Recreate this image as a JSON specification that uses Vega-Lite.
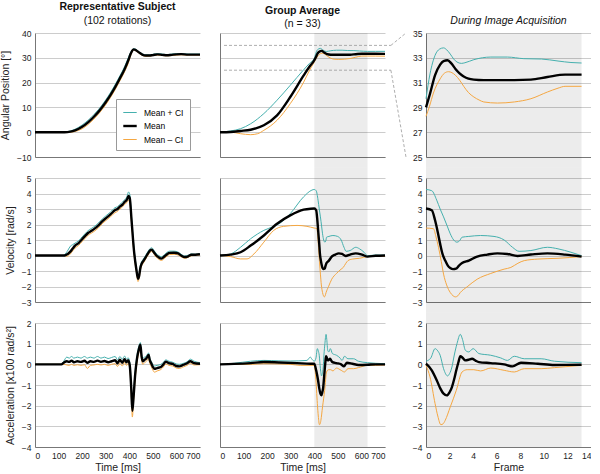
{
"$schema": "https://vega.github.io/schema/vega-lite/v6.json",
"padding": {"left": 0, "top": 2, "right": 0, "bottom": 0},
"background": "white",
"config": {
 "font": "Liberation Sans",
 "view": {"stroke": null},
 "axis": {"labelFont": "Liberation Sans", "titleFont": "Liberation Sans", "labelFontSize": 8.5, "titleFontSize": 10.5, "titleFontWeight": "normal", "labelColor": "#222", "titleColor": "#222", "domainColor": "#777", "gridColor": "#cccccc", "ticks": false, "labelPadding": 4},
 "axisX": {"grid": false, "titlePadding": 3},
 "axisY": {"grid": true, "titlePadding": 6},
 "title": {"font": "Liberation Sans", "fontSize": 10.5, "fontWeight": "bold", "subtitleFont": "Liberation Sans", "subtitleFontSize": 10.5, "subtitleColor": "#111", "subtitlePadding": 0, "offset": 3, "color": "#111", "anchor": "middle"},
 "line": {"interpolate": "monotone"}
},
"resolve": {"scale": {"color": "independent", "strokeWidth": "independent"}},
"datasets": {
"c1p": [
{"s":"Mean + CI","x":0,"y":0},{"s":"Mean + CI","x":118,"y":0},{"s":"Mean + CI","x":135,"y":0.15},{"s":"Mean + CI","x":150,"y":0.5},{"s":"Mean + CI","x":170,"y":1.2},{"s":"Mean + CI","x":200,"y":2.9},{"s":"Mean + CI","x":225,"y":4.8},{"s":"Mean + CI","x":250,"y":7.1},{"s":"Mean + CI","x":269,"y":9.1},{"s":"Mean + CI","x":300,"y":13.0},{"s":"Mean + CI","x":339,"y":19.0},{"s":"Mean + CI","x":360,"y":22.7},{"s":"Mean + CI","x":380,"y":26.4},{"s":"Mean + CI","x":397,"y":30.3},{"s":"Mean + CI","x":405,"y":32.1},{"s":"Mean + CI","x":412,"y":33.2},{"s":"Mean + CI","x":419,"y":33.7},{"s":"Mean + CI","x":426,"y":33.5},{"s":"Mean + CI","x":435,"y":32.9},{"s":"Mean + CI","x":445,"y":32.2},{"s":"Mean + CI","x":455,"y":31.6},{"s":"Mean + CI","x":470,"y":31.2},{"s":"Mean + CI","x":485,"y":31.2},{"s":"Mean + CI","x":500,"y":31.4},{"s":"Mean + CI","x":520,"y":31.7},{"s":"Mean + CI","x":540,"y":31.5},{"s":"Mean + CI","x":560,"y":31.3},{"s":"Mean + CI","x":580,"y":31.5},{"s":"Mean + CI","x":600,"y":31.7},{"s":"Mean + CI","x":620,"y":31.7},{"s":"Mean + CI","x":650,"y":31.5},{"s":"Mean + CI","x":700,"y":31.5},
{"s":"Mean – CI","x":0,"y":0},{"s":"Mean – CI","x":135,"y":0},{"s":"Mean – CI","x":150,"y":0.0},{"s":"Mean – CI","x":170,"y":0.3},{"s":"Mean – CI","x":200,"y":1.4},{"s":"Mean – CI","x":225,"y":3.1},{"s":"Mean – CI","x":250,"y":5.3},{"s":"Mean – CI","x":269,"y":7.3},{"s":"Mean – CI","x":300,"y":11.1},{"s":"Mean – CI","x":339,"y":17.0},{"s":"Mean – CI","x":360,"y":20.7},{"s":"Mean – CI","x":380,"y":24.4},{"s":"Mean – CI","x":397,"y":28.2},{"s":"Mean – CI","x":405,"y":30.7},{"s":"Mean – CI","x":412,"y":32.4},{"s":"Mean – CI","x":419,"y":33.1},{"s":"Mean – CI","x":426,"y":32.9},{"s":"Mean – CI","x":435,"y":32.3},{"s":"Mean – CI","x":445,"y":31.6},{"s":"Mean – CI","x":455,"y":31.0},{"s":"Mean – CI","x":470,"y":30.6},{"s":"Mean – CI","x":485,"y":30.7},{"s":"Mean – CI","x":500,"y":30.9},{"s":"Mean – CI","x":520,"y":31.1},{"s":"Mean – CI","x":540,"y":30.9},{"s":"Mean – CI","x":560,"y":30.8},{"s":"Mean – CI","x":580,"y":30.9},{"s":"Mean – CI","x":600,"y":31.1},{"s":"Mean – CI","x":620,"y":31.2},{"s":"Mean – CI","x":650,"y":31.1},{"s":"Mean – CI","x":700,"y":31.1},
{"s":"Mean","x":0,"y":0},{"s":"Mean","x":125,"y":0},{"s":"Mean","x":150,"y":0.21},{"s":"Mean","x":170,"y":0.73},{"s":"Mean","x":200,"y":2.18},{"s":"Mean","x":225,"y":3.97},{"s":"Mean","x":250,"y":6.23},{"s":"Mean","x":269,"y":8.2},{"s":"Mean","x":300,"y":12.06},{"s":"Mean","x":339,"y":18.0},{"s":"Mean","x":360,"y":21.7},{"s":"Mean","x":380,"y":25.4},{"s":"Mean","x":397,"y":29.3},{"s":"Mean","x":405,"y":31.4},{"s":"Mean","x":412,"y":32.8},{"s":"Mean","x":419,"y":33.4},{"s":"Mean","x":426,"y":33.2},{"s":"Mean","x":435,"y":32.6},{"s":"Mean","x":445,"y":31.9},{"s":"Mean","x":455,"y":31.3},{"s":"Mean","x":470,"y":30.9},{"s":"Mean","x":485,"y":30.9},{"s":"Mean","x":500,"y":31.1},{"s":"Mean","x":520,"y":31.4},{"s":"Mean","x":540,"y":31.2},{"s":"Mean","x":560,"y":31.0},{"s":"Mean","x":580,"y":31.2},{"s":"Mean","x":600,"y":31.4},{"s":"Mean","x":620,"y":31.5},{"s":"Mean","x":650,"y":31.3},{"s":"Mean","x":700,"y":31.3}
],
"c1v": [
{"s":"Mean + CI","x":0,"y":0},{"s":"Mean + CI","x":115,"y":0},{"s":"Mean + CI","x":125,"y":0.05},{"s":"Mean + CI","x":140,"y":0.35},{"s":"Mean + CI","x":150,"y":0.6},{"s":"Mean + CI","x":160,"y":0.7},{"s":"Mean + CI","x":170,"y":0.8},{"s":"Mean + CI","x":185,"y":0.95},{"s":"Mean + CI","x":200,"y":1.2},{"s":"Mean + CI","x":212,"y":1.4},{"s":"Mean + CI","x":225,"y":1.6},{"s":"Mean + CI","x":240,"y":1.75},{"s":"Mean + CI","x":250,"y":1.85},{"s":"Mean + CI","x":269,"y":2.1},{"s":"Mean + CI","x":285,"y":2.35},{"s":"Mean + CI","x":300,"y":2.55},{"s":"Mean + CI","x":320,"y":2.8},{"s":"Mean + CI","x":339,"y":3.08},{"s":"Mean + CI","x":350,"y":3.15},{"s":"Mean + CI","x":360,"y":3.3},{"s":"Mean + CI","x":372,"y":3.45},{"s":"Mean + CI","x":380,"y":3.6},{"s":"Mean + CI","x":390,"y":3.8},{"s":"Mean + CI","x":397,"y":4.1},{"s":"Mean + CI","x":402,"y":3.95},{"s":"Mean + CI","x":410,"y":2.4},{"s":"Mean + CI","x":420,"y":0.5},{"s":"Mean + CI","x":430,"y":-0.75},{"s":"Mean + CI","x":437,"y":-1.35},{"s":"Mean + CI","x":442,"y":-1.15},{"s":"Mean + CI","x":447,"y":-0.65},{"s":"Mean + CI","x":452,"y":-0.42},{"s":"Mean + CI","x":460,"y":-0.22},{"s":"Mean + CI","x":470,"y":0.02},{"s":"Mean + CI","x":480,"y":0.28},{"s":"Mean + CI","x":490,"y":0.47},{"s":"Mean + CI","x":495,"y":0.5},{"s":"Mean + CI","x":505,"y":0.32},{"s":"Mean + CI","x":515,"y":0.12},{"s":"Mean + CI","x":525,"y":0.0},{"s":"Mean + CI","x":536,"y":-0.08},{"s":"Mean + CI","x":550,"y":0.07},{"s":"Mean + CI","x":560,"y":0.2},{"s":"Mean + CI","x":571,"y":0.28},{"s":"Mean + CI","x":590,"y":0.28},{"s":"Mean + CI","x":607,"y":0.22},{"s":"Mean + CI","x":620,"y":0.08},{"s":"Mean + CI","x":635,"y":-0.03},{"s":"Mean + CI","x":650,"y":0.02},{"s":"Mean + CI","x":663,"y":0.1},{"s":"Mean + CI","x":680,"y":0.08},{"s":"Mean + CI","x":700,"y":0.1},
{"s":"Mean – CI","x":0,"y":0},{"s":"Mean – CI","x":125,"y":0},{"s":"Mean – CI","x":135,"y":-0.05},{"s":"Mean – CI","x":150,"y":0.1},{"s":"Mean – CI","x":160,"y":0.3},{"s":"Mean – CI","x":170,"y":0.48},{"s":"Mean – CI","x":185,"y":0.65},{"s":"Mean – CI","x":200,"y":0.9},{"s":"Mean – CI","x":212,"y":1.1},{"s":"Mean – CI","x":225,"y":1.3},{"s":"Mean – CI","x":240,"y":1.45},{"s":"Mean – CI","x":250,"y":1.55},{"s":"Mean – CI","x":269,"y":1.78},{"s":"Mean – CI","x":285,"y":2.05},{"s":"Mean – CI","x":300,"y":2.25},{"s":"Mean – CI","x":320,"y":2.5},{"s":"Mean – CI","x":339,"y":2.76},{"s":"Mean – CI","x":350,"y":2.85},{"s":"Mean – CI","x":360,"y":3.0},{"s":"Mean – CI","x":372,"y":3.15},{"s":"Mean – CI","x":380,"y":3.3},{"s":"Mean – CI","x":390,"y":3.42},{"s":"Mean – CI","x":397,"y":3.55},{"s":"Mean – CI","x":402,"y":3.45},{"s":"Mean – CI","x":410,"y":2.0},{"s":"Mean – CI","x":420,"y":0.1},{"s":"Mean – CI","x":430,"y":-1.05},{"s":"Mean – CI","x":437,"y":-1.68},{"s":"Mean – CI","x":442,"y":-1.45},{"s":"Mean – CI","x":447,"y":-0.95},{"s":"Mean – CI","x":452,"y":-0.68},{"s":"Mean – CI","x":460,"y":-0.48},{"s":"Mean – CI","x":470,"y":-0.22},{"s":"Mean – CI","x":480,"y":0.03},{"s":"Mean – CI","x":490,"y":0.23},{"s":"Mean – CI","x":495,"y":0.26},{"s":"Mean – CI","x":505,"y":0.08},{"s":"Mean – CI","x":515,"y":-0.12},{"s":"Mean – CI","x":525,"y":-0.24},{"s":"Mean – CI","x":536,"y":-0.32},{"s":"Mean – CI","x":550,"y":-0.17},{"s":"Mean – CI","x":560,"y":-0.04},{"s":"Mean – CI","x":571,"y":0.06},{"s":"Mean – CI","x":590,"y":0.08},{"s":"Mean – CI","x":607,"y":0.03},{"s":"Mean – CI","x":620,"y":-0.08},{"s":"Mean – CI","x":635,"y":-0.18},{"s":"Mean – CI","x":650,"y":-0.12},{"s":"Mean – CI","x":663,"y":-0.02},{"s":"Mean – CI","x":680,"y":0.0},{"s":"Mean – CI","x":700,"y":0.04},
{"s":"Mean","x":0,"y":0},{"s":"Mean","x":120,"y":0},{"s":"Mean","x":130,"y":0.03},{"s":"Mean","x":150,"y":0.25},{"s":"Mean","x":160,"y":0.45},{"s":"Mean","x":170,"y":0.64},{"s":"Mean","x":185,"y":0.8},{"s":"Mean","x":200,"y":1.05},{"s":"Mean","x":212,"y":1.25},{"s":"Mean","x":225,"y":1.45},{"s":"Mean","x":240,"y":1.6},{"s":"Mean","x":250,"y":1.7},{"s":"Mean","x":269,"y":1.94},{"s":"Mean","x":285,"y":2.2},{"s":"Mean","x":300,"y":2.4},{"s":"Mean","x":320,"y":2.65},{"s":"Mean","x":339,"y":2.92},{"s":"Mean","x":350,"y":3.0},{"s":"Mean","x":360,"y":3.15},{"s":"Mean","x":372,"y":3.3},{"s":"Mean","x":380,"y":3.45},{"s":"Mean","x":390,"y":3.6},{"s":"Mean","x":397,"y":3.85},{"s":"Mean","x":402,"y":3.7},{"s":"Mean","x":410,"y":2.2},{"s":"Mean","x":420,"y":0.3},{"s":"Mean","x":430,"y":-0.9},{"s":"Mean","x":437,"y":-1.5},{"s":"Mean","x":442,"y":-1.3},{"s":"Mean","x":447,"y":-0.8},{"s":"Mean","x":452,"y":-0.55},{"s":"Mean","x":460,"y":-0.35},{"s":"Mean","x":470,"y":-0.1},{"s":"Mean","x":480,"y":0.15},{"s":"Mean","x":490,"y":0.35},{"s":"Mean","x":495,"y":0.38},{"s":"Mean","x":505,"y":0.2},{"s":"Mean","x":515,"y":0.0},{"s":"Mean","x":525,"y":-0.12},{"s":"Mean","x":536,"y":-0.2},{"s":"Mean","x":550,"y":-0.05},{"s":"Mean","x":560,"y":0.08},{"s":"Mean","x":571,"y":0.17},{"s":"Mean","x":590,"y":0.18},{"s":"Mean","x":607,"y":0.13},{"s":"Mean","x":620,"y":0.0},{"s":"Mean","x":635,"y":-0.1},{"s":"Mean","x":650,"y":-0.05},{"s":"Mean","x":663,"y":0.05},{"s":"Mean","x":680,"y":0.05},{"s":"Mean","x":700,"y":0.08}
],
"c1a": [
{"s":"Mean + CI","x":0,"y":0},{"s":"Mean + CI","x":112,"y":0},{"s":"Mean + CI","x":122,"y":0.15},{"s":"Mean + CI","x":135,"y":0.35},{"s":"Mean + CI","x":145,"y":0.3},{"s":"Mean + CI","x":155,"y":0.38},{"s":"Mean + CI","x":165,"y":0.3},{"s":"Mean + CI","x":180,"y":0.35},{"s":"Mean + CI","x":195,"y":0.3},{"s":"Mean + CI","x":210,"y":0.38},{"s":"Mean + CI","x":222,"y":0.3},{"s":"Mean + CI","x":235,"y":0.35},{"s":"Mean + CI","x":250,"y":0.3},{"s":"Mean + CI","x":265,"y":0.38},{"s":"Mean + CI","x":280,"y":0.3},{"s":"Mean + CI","x":295,"y":0.35},{"s":"Mean + CI","x":310,"y":0.28},{"s":"Mean + CI","x":325,"y":0.33},{"s":"Mean + CI","x":340,"y":0.38},{"s":"Mean + CI","x":350,"y":0.22},{"s":"Mean + CI","x":360,"y":0.38},{"s":"Mean + CI","x":370,"y":0.25},{"s":"Mean + CI","x":380,"y":0.4},{"s":"Mean + CI","x":388,"y":0.25},{"s":"Mean + CI","x":395,"y":0.32},{"s":"Mean + CI","x":402,"y":0.1},{"s":"Mean + CI","x":408,"y":-0.9},{"s":"Mean + CI","x":413,"y":-2.05},{"s":"Mean + CI","x":418,"y":-1.4},{"s":"Mean + CI","x":425,"y":-0.3},{"s":"Mean + CI","x":433,"y":0.45},{"s":"Mean + CI","x":441,"y":0.9},{"s":"Mean + CI","x":447,"y":1.05},{"s":"Mean + CI","x":452,"y":0.55},{"s":"Mean + CI","x":457,"y":0.3},{"s":"Mean + CI","x":465,"y":0.35},{"s":"Mean + CI","x":473,"y":0.42},{"s":"Mean + CI","x":482,"y":0.55},{"s":"Mean + CI","x":487,"y":0.3},{"s":"Mean + CI","x":493,"y":0.15},{"s":"Mean + CI","x":500,"y":0.0},{"s":"Mean + CI","x":507,"y":-0.08},{"s":"Mean + CI","x":518,"y":-0.05},{"s":"Mean + CI","x":534,"y":0.0},{"s":"Mean + CI","x":545,"y":0.1},{"s":"Mean + CI","x":555,"y":0.22},{"s":"Mean + CI","x":568,"y":0.15},{"s":"Mean + CI","x":584,"y":0.1},{"s":"Mean + CI","x":600,"y":0.02},{"s":"Mean + CI","x":612,"y":0.0},{"s":"Mean + CI","x":630,"y":0.05},{"s":"Mean + CI","x":645,"y":0.12},{"s":"Mean + CI","x":659,"y":0.25},{"s":"Mean + CI","x":675,"y":0.15},{"s":"Mean + CI","x":700,"y":0.08},
{"s":"Mean – CI","x":0,"y":0},{"s":"Mean – CI","x":112,"y":0},{"s":"Mean – CI","x":122,"y":0.0},{"s":"Mean – CI","x":135,"y":-0.03},{"s":"Mean – CI","x":145,"y":-0.05},{"s":"Mean – CI","x":155,"y":0.0},{"s":"Mean – CI","x":165,"y":-0.05},{"s":"Mean – CI","x":180,"y":-0.02},{"s":"Mean – CI","x":195,"y":-0.05},{"s":"Mean – CI","x":210,"y":-0.02},{"s":"Mean – CI","x":222,"y":-0.2},{"s":"Mean – CI","x":235,"y":-0.05},{"s":"Mean – CI","x":250,"y":-0.03},{"s":"Mean – CI","x":265,"y":0.0},{"s":"Mean – CI","x":280,"y":-0.03},{"s":"Mean – CI","x":295,"y":0.0},{"s":"Mean – CI","x":310,"y":-0.05},{"s":"Mean – CI","x":325,"y":0.0},{"s":"Mean – CI","x":340,"y":0.03},{"s":"Mean – CI","x":350,"y":-0.1},{"s":"Mean – CI","x":360,"y":0.05},{"s":"Mean – CI","x":370,"y":-0.08},{"s":"Mean – CI","x":380,"y":0.1},{"s":"Mean – CI","x":388,"y":-0.05},{"s":"Mean – CI","x":395,"y":0.05},{"s":"Mean – CI","x":402,"y":-0.2},{"s":"Mean – CI","x":408,"y":-1.3},{"s":"Mean – CI","x":413,"y":-2.55},{"s":"Mean – CI","x":418,"y":-1.8},{"s":"Mean – CI","x":425,"y":-0.7},{"s":"Mean – CI","x":433,"y":0.1},{"s":"Mean – CI","x":441,"y":0.6},{"s":"Mean – CI","x":447,"y":0.85},{"s":"Mean – CI","x":452,"y":0.25},{"s":"Mean – CI","x":457,"y":0.0},{"s":"Mean – CI","x":465,"y":0.08},{"s":"Mean – CI","x":473,"y":0.15},{"s":"Mean – CI","x":482,"y":0.3},{"s":"Mean – CI","x":487,"y":0.05},{"s":"Mean – CI","x":493,"y":-0.1},{"s":"Mean – CI","x":500,"y":-0.28},{"s":"Mean – CI","x":507,"y":-0.38},{"s":"Mean – CI","x":518,"y":-0.32},{"s":"Mean – CI","x":534,"y":-0.25},{"s":"Mean – CI","x":545,"y":-0.12},{"s":"Mean – CI","x":555,"y":0.02},{"s":"Mean – CI","x":568,"y":-0.05},{"s":"Mean – CI","x":584,"y":-0.08},{"s":"Mean – CI","x":600,"y":-0.18},{"s":"Mean – CI","x":612,"y":-0.2},{"s":"Mean – CI","x":630,"y":-0.12},{"s":"Mean – CI","x":645,"y":-0.05},{"s":"Mean – CI","x":659,"y":0.05},{"s":"Mean – CI","x":675,"y":-0.03},{"s":"Mean – CI","x":700,"y":-0.02},
{"s":"Mean","x":0,"y":0},{"s":"Mean","x":112,"y":0},{"s":"Mean","x":122,"y":0.08},{"s":"Mean","x":135,"y":0.15},{"s":"Mean","x":145,"y":0.12},{"s":"Mean","x":155,"y":0.18},{"s":"Mean","x":165,"y":0.1},{"s":"Mean","x":180,"y":0.15},{"s":"Mean","x":195,"y":0.12},{"s":"Mean","x":210,"y":0.17},{"s":"Mean","x":222,"y":0.08},{"s":"Mean","x":235,"y":0.15},{"s":"Mean","x":250,"y":0.12},{"s":"Mean","x":265,"y":0.18},{"s":"Mean","x":280,"y":0.12},{"s":"Mean","x":295,"y":0.16},{"s":"Mean","x":310,"y":0.1},{"s":"Mean","x":325,"y":0.15},{"s":"Mean","x":340,"y":0.2},{"s":"Mean","x":350,"y":0.05},{"s":"Mean","x":360,"y":0.22},{"s":"Mean","x":370,"y":0.08},{"s":"Mean","x":380,"y":0.25},{"s":"Mean","x":388,"y":0.1},{"s":"Mean","x":395,"y":0.2},{"s":"Mean","x":402,"y":-0.05},{"s":"Mean","x":408,"y":-1.1},{"s":"Mean","x":413,"y":-2.25},{"s":"Mean","x":418,"y":-1.6},{"s":"Mean","x":425,"y":-0.5},{"s":"Mean","x":433,"y":0.3},{"s":"Mean","x":441,"y":0.75},{"s":"Mean","x":447,"y":0.95},{"s":"Mean","x":452,"y":0.4},{"s":"Mean","x":457,"y":0.15},{"s":"Mean","x":465,"y":0.22},{"s":"Mean","x":473,"y":0.3},{"s":"Mean","x":482,"y":0.45},{"s":"Mean","x":487,"y":0.2},{"s":"Mean","x":493,"y":0.05},{"s":"Mean","x":500,"y":-0.12},{"s":"Mean","x":507,"y":-0.22},{"s":"Mean","x":518,"y":-0.18},{"s":"Mean","x":534,"y":-0.13},{"s":"Mean","x":545,"y":0.0},{"s":"Mean","x":555,"y":0.13},{"s":"Mean","x":568,"y":0.06},{"s":"Mean","x":584,"y":0.02},{"s":"Mean","x":600,"y":-0.08},{"s":"Mean","x":612,"y":-0.1},{"s":"Mean","x":630,"y":-0.02},{"s":"Mean","x":645,"y":0.05},{"s":"Mean","x":659,"y":0.15},{"s":"Mean","x":675,"y":0.06},{"s":"Mean","x":700,"y":0.03}
],
"c2p": [
{"s":"Mean + CI","x":0,"y":0},{"s":"Mean + CI","x":45,"y":0.5},{"s":"Mean + CI","x":87,"y":1.4},{"s":"Mean + CI","x":130,"y":3.4},{"s":"Mean + CI","x":186,"y":7.5},{"s":"Mean + CI","x":242,"y":12.9},{"s":"Mean + CI","x":298,"y":18.9},{"s":"Mean + CI","x":355,"y":25.2},{"s":"Mean + CI","x":380,"y":27.8},{"s":"Mean + CI","x":400,"y":29.7},{"s":"Mean + CI","x":406,"y":31.7},{"s":"Mean + CI","x":413,"y":33.2},{"s":"Mean + CI","x":426,"y":33.8},{"s":"Mean + CI","x":435,"y":33.3},{"s":"Mean + CI","x":445,"y":32.66},{"s":"Mean + CI","x":451,"y":32.55},{"s":"Mean + CI","x":470,"y":32.85},{"s":"Mean + CI","x":494,"y":33.06},{"s":"Mean + CI","x":518,"y":33.06},{"s":"Mean + CI","x":542,"y":32.93},{"s":"Mean + CI","x":568,"y":32.9},{"s":"Mean + CI","x":592,"y":32.74},{"s":"Mean + CI","x":626,"y":32.58},{"s":"Mean + CI","x":660,"y":32.6},{"s":"Mean + CI","x":700,"y":32.6},
{"s":"Mean – CI","x":0,"y":0},{"s":"Mean – CI","x":45,"y":0},{"s":"Mean – CI","x":87,"y":-0.6},{"s":"Mean – CI","x":130,"y":-1.0},{"s":"Mean – CI","x":160,"y":-0.6},{"s":"Mean – CI","x":186,"y":0.75},{"s":"Mean – CI","x":242,"y":4.8},{"s":"Mean – CI","x":298,"y":11.5},{"s":"Mean – CI","x":355,"y":20.2},{"s":"Mean – CI","x":380,"y":25.0},{"s":"Mean – CI","x":400,"y":28.28},{"s":"Mean – CI","x":411,"y":30.16},{"s":"Mean – CI","x":421,"y":31.3},{"s":"Mean – CI","x":433,"y":31.88},{"s":"Mean – CI","x":443,"y":31.6},{"s":"Mean – CI","x":455,"y":30.7},{"s":"Mean – CI","x":470,"y":29.84},{"s":"Mean – CI","x":484,"y":29.44},{"s":"Mean – CI","x":504,"y":29.35},{"s":"Mean – CI","x":528,"y":29.44},{"s":"Mean – CI","x":552,"y":29.7},{"s":"Mean – CI","x":576,"y":30.24},{"s":"Mean – CI","x":602,"y":30.7},{"s":"Mean – CI","x":626,"y":30.7},{"s":"Mean – CI","x":660,"y":30.7},{"s":"Mean – CI","x":700,"y":30.65},
{"s":"Mean","x":0,"y":0},{"s":"Mean","x":45,"y":0.1},{"s":"Mean","x":87,"y":0.5},{"s":"Mean","x":130,"y":1.0},{"s":"Mean","x":186,"y":2.8},{"s":"Mean","x":242,"y":6.8},{"s":"Mean","x":298,"y":14.2},{"s":"Mean","x":355,"y":22.9},{"s":"Mean","x":380,"y":26.5},{"s":"Mean","x":400,"y":29.0},{"s":"Mean","x":406,"y":30.1},{"s":"Mean","x":413,"y":31.6},{"s":"Mean","x":421,"y":32.45},{"s":"Mean","x":431,"y":32.8},{"s":"Mean","x":443,"y":32.1},{"s":"Mean","x":455,"y":31.5},{"s":"Mean","x":470,"y":31.24},{"s":"Mean","x":484,"y":31.2},{"s":"Mean","x":504,"y":31.2},{"s":"Mean","x":528,"y":31.2},{"s":"Mean","x":552,"y":31.24},{"s":"Mean","x":576,"y":31.45},{"s":"Mean","x":602,"y":31.64},{"s":"Mean","x":626,"y":31.64},{"s":"Mean","x":660,"y":31.64},{"s":"Mean","x":700,"y":31.6}
],
"c2v": [
{"s":"Mean + CI","x":0,"y":0},{"s":"Mean + CI","x":45,"y":0.1},{"s":"Mean + CI","x":87,"y":0.53},{"s":"Mean + CI","x":130,"y":1.08},{"s":"Mean + CI","x":186,"y":1.62},{"s":"Mean + CI","x":228,"y":1.88},{"s":"Mean + CI","x":256,"y":2.1},{"s":"Mean + CI","x":298,"y":2.7},{"s":"Mean + CI","x":355,"y":3.79},{"s":"Mean + CI","x":390,"y":4.22},{"s":"Mean + CI","x":400,"y":4.26},{"s":"Mean + CI","x":408,"y":4.18},{"s":"Mean + CI","x":416,"y":3.57},{"s":"Mean + CI","x":421,"y":3.0},{"s":"Mean + CI","x":426,"y":2.49},{"s":"Mean + CI","x":431,"y":1.9},{"s":"Mean + CI","x":435,"y":1.4},{"s":"Mean + CI","x":440,"y":1.0},{"s":"Mean + CI","x":445,"y":0.86},{"s":"Mean + CI","x":449,"y":0.95},{"s":"Mean + CI","x":452,"y":1.18},{"s":"Mean + CI","x":462,"y":1.23},{"s":"Mean + CI","x":479,"y":1.29},{"s":"Mean + CI","x":499,"y":1.23},{"s":"Mean + CI","x":514,"y":1.0},{"s":"Mean + CI","x":526,"y":0.53},{"s":"Mean + CI","x":535,"y":0.27},{"s":"Mean + CI","x":552,"y":0.32},{"s":"Mean + CI","x":576,"y":0.53},{"s":"Mean + CI","x":592,"y":0.43},{"s":"Mean + CI","x":611,"y":0.21},{"s":"Mean + CI","x":626,"y":-0.01},{"s":"Mean + CI","x":660,"y":0.03},{"s":"Mean + CI","x":700,"y":0.02},
{"s":"Mean – CI","x":0,"y":0},{"s":"Mean – CI","x":45,"y":-0.07},{"s":"Mean – CI","x":87,"y":-0.22},{"s":"Mean – CI","x":115,"y":-0.22},{"s":"Mean – CI","x":144,"y":0.1},{"s":"Mean – CI","x":186,"y":0.86},{"s":"Mean – CI","x":228,"y":1.62},{"s":"Mean – CI","x":270,"y":1.88},{"s":"Mean – CI","x":327,"y":1.94},{"s":"Mean – CI","x":369,"y":1.88},{"s":"Mean – CI","x":400,"y":1.77},{"s":"Mean – CI","x":411,"y":1.73},{"s":"Mean – CI","x":415,"y":1.2},{"s":"Mean – CI","x":418,"y":0.53},{"s":"Mean – CI","x":422,"y":-0.4},{"s":"Mean – CI","x":426,"y":-1.2},{"s":"Mean – CI","x":430,"y":-1.9},{"s":"Mean – CI","x":435,"y":-2.39},{"s":"Mean – CI","x":439,"y":-2.6},{"s":"Mean – CI","x":443,"y":-2.67},{"s":"Mean – CI","x":446,"y":-2.6},{"s":"Mean – CI","x":450,"y":-2.39},{"s":"Mean – CI","x":460,"y":-2.02},{"s":"Mean – CI","x":474,"y":-1.53},{"s":"Mean – CI","x":494,"y":-1.16},{"s":"Mean – CI","x":514,"y":-0.88},{"s":"Mean – CI","x":523,"y":-0.77},{"s":"Mean – CI","x":534,"y":-0.5},{"s":"Mean – CI","x":543,"y":-0.33},{"s":"Mean – CI","x":562,"y":-0.23},{"s":"Mean – CI","x":592,"y":-0.18},{"s":"Mean – CI","x":626,"y":-0.07},{"s":"Mean – CI","x":660,"y":-0.05},{"s":"Mean – CI","x":700,"y":-0.05},
{"s":"Mean","x":0,"y":0},{"s":"Mean","x":45,"y":0.06},{"s":"Mean","x":87,"y":0.21},{"s":"Mean","x":130,"y":0.64},{"s":"Mean","x":186,"y":1.29},{"s":"Mean","x":242,"y":2.05},{"s":"Mean","x":298,"y":2.59},{"s":"Mean","x":355,"y":2.96},{"s":"Mean","x":385,"y":3.02},{"s":"Mean","x":400,"y":3.03},{"s":"Mean","x":408,"y":2.92},{"s":"Mean","x":413,"y":2.27},{"s":"Mean","x":417,"y":1.5},{"s":"Mean","x":421,"y":0.75},{"s":"Mean","x":424,"y":0.1},{"s":"Mean","x":428,"y":-0.33},{"s":"Mean","x":432,"y":-0.65},{"s":"Mean","x":435,"y":-0.81},{"s":"Mean","x":439,"y":-0.88},{"s":"Mean","x":444,"y":-0.85},{"s":"Mean","x":448,"y":-0.65},{"s":"Mean","x":452,"y":-0.49},{"s":"Mean","x":462,"y":-0.33},{"s":"Mean","x":474,"y":-0.07},{"s":"Mean","x":489,"y":0.06},{"s":"Mean","x":504,"y":0.14},{"s":"Mean","x":518,"y":0.1},{"s":"Mean","x":533,"y":-0.03},{"s":"Mean","x":552,"y":0.06},{"s":"Mean","x":576,"y":0.14},{"s":"Mean","x":602,"y":0.06},{"s":"Mean","x":626,"y":-0.07},{"s":"Mean","x":660,"y":-0.02},{"s":"Mean","x":700,"y":0.0}
],
"c2a": [
{"s":"Mean + CI","x":0,"y":0},{"s":"Mean + CI","x":60,"y":0.05},{"s":"Mean + CI","x":130,"y":0.15},{"s":"Mean + CI","x":186,"y":0.19},{"s":"Mean + CI","x":250,"y":0.17},{"s":"Mean + CI","x":300,"y":0.16},{"s":"Mean + CI","x":369,"y":0.19},{"s":"Mean + CI","x":383,"y":0.35},{"s":"Mean + CI","x":390,"y":0.25},{"s":"Mean + CI","x":400,"y":0.15},{"s":"Mean + CI","x":407,"y":0.3},{"s":"Mean + CI","x":413,"y":0.76},{"s":"Mean + CI","x":417,"y":0.65},{"s":"Mean + CI","x":421,"y":0.44},{"s":"Mean + CI","x":426,"y":-0.21},{"s":"Mean + CI","x":431,"y":-0.56},{"s":"Mean + CI","x":434,"y":-0.45},{"s":"Mean + CI","x":438,"y":-0.13},{"s":"Mean + CI","x":441,"y":0.45},{"s":"Mean + CI","x":445,"y":1.0},{"s":"Mean + CI","x":450,"y":1.45},{"s":"Mean + CI","x":453,"y":1.2},{"s":"Mean + CI","x":457,"y":0.68},{"s":"Mean + CI","x":462,"y":0.6},{"s":"Mean + CI","x":468,"y":0.76},{"s":"Mean + CI","x":477,"y":0.52},{"s":"Mean + CI","x":494,"y":0.44},{"s":"Mean + CI","x":509,"y":0.31},{"s":"Mean + CI","x":518,"y":0.19},{"s":"Mean + CI","x":528,"y":0.39},{"s":"Mean + CI","x":543,"y":0.27},{"s":"Mean + CI","x":567,"y":0.27},{"s":"Mean + CI","x":587,"y":0.15},{"s":"Mean + CI","x":626,"y":0.08},{"s":"Mean + CI","x":660,"y":0.05},{"s":"Mean + CI","x":700,"y":0.03},
{"s":"Mean – CI","x":0,"y":0},{"s":"Mean – CI","x":60,"y":0.0},{"s":"Mean – CI","x":130,"y":0.0},{"s":"Mean – CI","x":186,"y":0.03},{"s":"Mean – CI","x":300,"y":0.0},{"s":"Mean – CI","x":340,"y":-0.05},{"s":"Mean – CI","x":400,"y":-0.05},{"s":"Mean – CI","x":406,"y":-0.61},{"s":"Mean – CI","x":413,"y":-1.9},{"s":"Mean – CI","x":417,"y":-2.5},{"s":"Mean – CI","x":422,"y":-2.92},{"s":"Mean – CI","x":425,"y":-2.88},{"s":"Mean – CI","x":428,"y":-2.71},{"s":"Mean – CI","x":435,"y":-2.06},{"s":"Mean – CI","x":444,"y":-1.26},{"s":"Mean – CI","x":452,"y":-0.37},{"s":"Mean – CI","x":460,"y":-0.26},{"s":"Mean – CI","x":470,"y":-0.26},{"s":"Mean – CI","x":479,"y":-0.32},{"s":"Mean – CI","x":494,"y":-0.18},{"s":"Mean – CI","x":514,"y":-0.29},{"s":"Mean – CI","x":528,"y":-0.37},{"s":"Mean – CI","x":543,"y":-0.21},{"s":"Mean – CI","x":567,"y":-0.21},{"s":"Mean – CI","x":587,"y":-0.16},{"s":"Mean – CI","x":626,"y":-0.05},{"s":"Mean – CI","x":660,"y":-0.05},{"s":"Mean – CI","x":700,"y":-0.03},
{"s":"Mean","x":0,"y":0},{"s":"Mean","x":60,"y":0.02},{"s":"Mean","x":130,"y":0.06},{"s":"Mean","x":186,"y":0.11},{"s":"Mean","x":250,"y":0.09},{"s":"Mean","x":327,"y":0.06},{"s":"Mean","x":383,"y":0.03},{"s":"Mean","x":400,"y":0.03},{"s":"Mean","x":408,"y":-0.29},{"s":"Mean","x":416,"y":-0.77},{"s":"Mean","x":421,"y":-1.15},{"s":"Mean","x":426,"y":-1.42},{"s":"Mean","x":430,"y":-1.5},{"s":"Mean","x":434,"y":-1.35},{"s":"Mean","x":438,"y":-1.1},{"s":"Mean","x":441,"y":-0.7},{"s":"Mean","x":444,"y":-0.29},{"s":"Mean","x":447,"y":0.1},{"s":"Mean","x":450,"y":0.39},{"s":"Mean","x":453,"y":0.32},{"s":"Mean","x":457,"y":0.19},{"s":"Mean","x":462,"y":0.22},{"s":"Mean","x":467,"y":0.27},{"s":"Mean","x":472,"y":0.18},{"s":"Mean","x":477,"y":0.11},{"s":"Mean","x":494,"y":0.06},{"s":"Mean","x":514,"y":0.0},{"s":"Mean","x":526,"y":-0.1},{"s":"Mean","x":538,"y":0.08},{"s":"Mean","x":562,"y":0.03},{"s":"Mean","x":587,"y":-0.03},{"s":"Mean","x":626,"y":-0.02},{"s":"Mean","x":660,"y":0.0},{"s":"Mean","x":700,"y":0.0}
],
"c3p": [
{"s":"Mean + CI","x":0,"y":29.7},{"s":"Mean + CI","x":0.34,"y":31.7},{"s":"Mean + CI","x":0.77,"y":33.2},{"s":"Mean + CI","x":1.15,"y":33.7},{"s":"Mean + CI","x":1.49,"y":33.8},{"s":"Mean + CI","x":1.75,"y":33.65},{"s":"Mean + CI","x":2.06,"y":33.3},{"s":"Mean + CI","x":2.35,"y":32.9},{"s":"Mean + CI","x":2.63,"y":32.66},{"s":"Mean + CI","x":3.0,"y":32.55},{"s":"Mean + CI","x":3.3,"y":32.6},{"s":"Mean + CI","x":4.06,"y":32.85},{"s":"Mean + CI","x":5.5,"y":33.06},{"s":"Mean + CI","x":6.9,"y":33.06},{"s":"Mean + CI","x":8.3,"y":32.93},{"s":"Mean + CI","x":9.8,"y":32.9},{"s":"Mean + CI","x":11.2,"y":32.74},{"s":"Mean + CI","x":12.3,"y":32.62},{"s":"Mean + CI","x":13.2,"y":32.58},
{"s":"Mean – CI","x":0,"y":28.28},{"s":"Mean – CI","x":0.3,"y":29.1},{"s":"Mean – CI","x":0.63,"y":30.16},{"s":"Mean – CI","x":1.2,"y":31.3},{"s":"Mean – CI","x":1.55,"y":31.75},{"s":"Mean – CI","x":1.91,"y":31.88},{"s":"Mean – CI","x":2.2,"y":31.8},{"s":"Mean – CI","x":2.49,"y":31.6},{"s":"Mean – CI","x":2.85,"y":31.2},{"s":"Mean – CI","x":3.2,"y":30.7},{"s":"Mean – CI","x":3.6,"y":30.2},{"s":"Mean – CI","x":4.06,"y":29.84},{"s":"Mean – CI","x":4.5,"y":29.6},{"s":"Mean – CI","x":4.9,"y":29.44},{"s":"Mean – CI","x":6.06,"y":29.35},{"s":"Mean – CI","x":7.5,"y":29.44},{"s":"Mean – CI","x":8.9,"y":29.7},{"s":"Mean – CI","x":10.3,"y":30.24},{"s":"Mean – CI","x":11.2,"y":30.55},{"s":"Mean – CI","x":11.8,"y":30.7},{"s":"Mean – CI","x":13.2,"y":30.7},
{"s":"Mean","x":0,"y":29.0},{"s":"Mean","x":0.34,"y":30.1},{"s":"Mean","x":0.77,"y":31.6},{"s":"Mean","x":1.2,"y":32.45},{"s":"Mean","x":1.49,"y":32.74},{"s":"Mean","x":1.83,"y":32.8},{"s":"Mean","x":2.15,"y":32.55},{"s":"Mean","x":2.5,"y":32.1},{"s":"Mean","x":2.85,"y":31.75},{"s":"Mean","x":3.2,"y":31.5},{"s":"Mean","x":3.6,"y":31.32},{"s":"Mean","x":4.06,"y":31.24},{"s":"Mean","x":4.9,"y":31.2},{"s":"Mean","x":6.06,"y":31.2},{"s":"Mean","x":7.5,"y":31.2},{"s":"Mean","x":8.9,"y":31.24},{"s":"Mean","x":10.3,"y":31.45},{"s":"Mean","x":11.8,"y":31.64},{"s":"Mean","x":13.2,"y":31.64}
],
"c3v": [
{"s":"Mean + CI","x":0,"y":4.26},{"s":"Mean + CI","x":0.49,"y":4.18},{"s":"Mean + CI","x":0.91,"y":3.57},{"s":"Mean + CI","x":1.2,"y":3.0},{"s":"Mean + CI","x":1.49,"y":2.49},{"s":"Mean + CI","x":1.8,"y":1.9},{"s":"Mean + CI","x":2.06,"y":1.4},{"s":"Mean + CI","x":2.35,"y":1.0},{"s":"Mean + CI","x":2.63,"y":0.86},{"s":"Mean + CI","x":2.85,"y":0.95},{"s":"Mean + CI","x":3.06,"y":1.18},{"s":"Mean + CI","x":3.63,"y":1.23},{"s":"Mean + CI","x":4.63,"y":1.29},{"s":"Mean + CI","x":5.77,"y":1.23},{"s":"Mean + CI","x":6.63,"y":1.0},{"s":"Mean + CI","x":7.34,"y":0.53},{"s":"Mean + CI","x":7.9,"y":0.27},{"s":"Mean + CI","x":8.9,"y":0.32},{"s":"Mean + CI","x":10.3,"y":0.53},{"s":"Mean + CI","x":11.2,"y":0.43},{"s":"Mean + CI","x":12.3,"y":0.21},{"s":"Mean + CI","x":13.2,"y":-0.01},
{"s":"Mean – CI","x":0,"y":1.77},{"s":"Mean – CI","x":0.63,"y":1.73},{"s":"Mean – CI","x":0.85,"y":1.2},{"s":"Mean – CI","x":1.06,"y":0.53},{"s":"Mean – CI","x":1.3,"y":-0.4},{"s":"Mean – CI","x":1.49,"y":-1.2},{"s":"Mean – CI","x":1.75,"y":-1.9},{"s":"Mean – CI","x":2.06,"y":-2.39},{"s":"Mean – CI","x":2.3,"y":-2.6},{"s":"Mean – CI","x":2.49,"y":-2.67},{"s":"Mean – CI","x":2.7,"y":-2.6},{"s":"Mean – CI","x":2.91,"y":-2.39},{"s":"Mean – CI","x":3.49,"y":-2.02},{"s":"Mean – CI","x":4.34,"y":-1.53},{"s":"Mean – CI","x":5.49,"y":-1.16},{"s":"Mean – CI","x":6.63,"y":-0.88},{"s":"Mean – CI","x":7.2,"y":-0.77},{"s":"Mean – CI","x":7.8,"y":-0.5},{"s":"Mean – CI","x":8.34,"y":-0.33},{"s":"Mean – CI","x":9.49,"y":-0.23},{"s":"Mean – CI","x":11.2,"y":-0.18},{"s":"Mean – CI","x":13.2,"y":-0.07},
{"s":"Mean","x":0,"y":3.03},{"s":"Mean","x":0.49,"y":2.92},{"s":"Mean","x":0.77,"y":2.27},{"s":"Mean","x":1.0,"y":1.5},{"s":"Mean","x":1.2,"y":0.75},{"s":"Mean","x":1.4,"y":0.1},{"s":"Mean","x":1.63,"y":-0.33},{"s":"Mean","x":1.85,"y":-0.65},{"s":"Mean","x":2.06,"y":-0.81},{"s":"Mean","x":2.3,"y":-0.88},{"s":"Mean","x":2.55,"y":-0.85},{"s":"Mean","x":2.8,"y":-0.65},{"s":"Mean","x":3.06,"y":-0.49},{"s":"Mean","x":3.63,"y":-0.33},{"s":"Mean","x":4.34,"y":-0.07},{"s":"Mean","x":5.2,"y":0.06},{"s":"Mean","x":6.06,"y":0.14},{"s":"Mean","x":6.9,"y":0.1},{"s":"Mean","x":7.77,"y":-0.03},{"s":"Mean","x":8.9,"y":0.06},{"s":"Mean","x":10.3,"y":0.14},{"s":"Mean","x":11.8,"y":0.06},{"s":"Mean","x":13.2,"y":-0.07}
],
"c3a": [
{"s":"Mean + CI","x":0,"y":0.15},{"s":"Mean + CI","x":0.4,"y":0.3},{"s":"Mean + CI","x":0.77,"y":0.76},{"s":"Mean + CI","x":1.0,"y":0.65},{"s":"Mean + CI","x":1.2,"y":0.44},{"s":"Mean + CI","x":1.49,"y":-0.21},{"s":"Mean + CI","x":1.83,"y":-0.56},{"s":"Mean + CI","x":2.0,"y":-0.45},{"s":"Mean + CI","x":2.2,"y":-0.13},{"s":"Mean + CI","x":2.4,"y":0.45},{"s":"Mean + CI","x":2.63,"y":1.0},{"s":"Mean + CI","x":2.91,"y":1.45},{"s":"Mean + CI","x":3.1,"y":1.2},{"s":"Mean + CI","x":3.34,"y":0.68},{"s":"Mean + CI","x":3.63,"y":0.6},{"s":"Mean + CI","x":4.0,"y":0.76},{"s":"Mean + CI","x":4.49,"y":0.52},{"s":"Mean + CI","x":5.49,"y":0.44},{"s":"Mean + CI","x":6.34,"y":0.31},{"s":"Mean + CI","x":6.91,"y":0.19},{"s":"Mean + CI","x":7.49,"y":0.39},{"s":"Mean + CI","x":8.34,"y":0.27},{"s":"Mean + CI","x":9.77,"y":0.27},{"s":"Mean + CI","x":10.9,"y":0.15},{"s":"Mean + CI","x":13.2,"y":0.08},
{"s":"Mean – CI","x":0,"y":-0.05},{"s":"Mean – CI","x":0.34,"y":-0.61},{"s":"Mean – CI","x":0.77,"y":-1.9},{"s":"Mean – CI","x":1.0,"y":-2.5},{"s":"Mean – CI","x":1.26,"y":-2.92},{"s":"Mean – CI","x":1.45,"y":-2.88},{"s":"Mean – CI","x":1.63,"y":-2.71},{"s":"Mean – CI","x":2.06,"y":-2.06},{"s":"Mean – CI","x":2.57,"y":-1.26},{"s":"Mean – CI","x":3.06,"y":-0.37},{"s":"Mean – CI","x":3.49,"y":-0.26},{"s":"Mean – CI","x":4.06,"y":-0.26},{"s":"Mean – CI","x":4.63,"y":-0.32},{"s":"Mean – CI","x":5.49,"y":-0.18},{"s":"Mean – CI","x":6.63,"y":-0.29},{"s":"Mean – CI","x":7.49,"y":-0.37},{"s":"Mean – CI","x":8.34,"y":-0.21},{"s":"Mean – CI","x":9.77,"y":-0.21},{"s":"Mean – CI","x":10.9,"y":-0.16},{"s":"Mean – CI","x":13.2,"y":-0.05},
{"s":"Mean","x":0,"y":0.03},{"s":"Mean","x":0.49,"y":-0.29},{"s":"Mean","x":0.91,"y":-0.77},{"s":"Mean","x":1.2,"y":-1.15},{"s":"Mean","x":1.49,"y":-1.42},{"s":"Mean","x":1.77,"y":-1.5},{"s":"Mean","x":2.0,"y":-1.35},{"s":"Mean","x":2.2,"y":-1.1},{"s":"Mean","x":2.4,"y":-0.7},{"s":"Mean","x":2.57,"y":-0.29},{"s":"Mean","x":2.75,"y":0.1},{"s":"Mean","x":2.91,"y":0.39},{"s":"Mean","x":3.1,"y":0.32},{"s":"Mean","x":3.34,"y":0.19},{"s":"Mean","x":3.6,"y":0.22},{"s":"Mean","x":3.91,"y":0.27},{"s":"Mean","x":4.2,"y":0.18},{"s":"Mean","x":4.49,"y":0.11},{"s":"Mean","x":5.49,"y":0.06},{"s":"Mean","x":6.63,"y":0.0},{"s":"Mean","x":7.34,"y":-0.1},{"s":"Mean","x":8.06,"y":0.08},{"s":"Mean","x":9.49,"y":0.03},{"s":"Mean","x":10.9,"y":-0.03},{"s":"Mean","x":13.2,"y":-0.02}
]
},
"columns": 4,
"bounds": "flush",
"spacing": {"column": 20, "row": 21},
"concat": [
{
 "width": 165, "height": 124,
 "title": {"text": "Representative Subject", "subtitle": "(102 rotations)"},
 "data": {"name": "c1p"},
 "mark": {"type": "line", "interpolate": "monotone"},
 "encoding": {
  "x": {"field": "x", "type": "quantitative", "scale": {"domain": [0, 700]}, "axis": {"labels": false, "title": null}},
  "y": {"field": "y", "type": "quantitative", "scale": {"domain": [-10, 40]}, "axis": {"values": [-10, 0, 10, 20, 30, 40], "title": "Angular Position [°]"}},
  "color": {"field": "s", "type": "ordinal", "scale": {"domain": ["Mean + CI", "Mean", "Mean – CI"], "range": ["#45b0ae", "#000000", "#f5a742"]}, "legend": {"title": null, "orient": "none", "legendX": 81, "legendY": 66, "strokeColor": "#999", "fillColor": "#ffffff", "padding": 6, "symbolType": "stroke", "symbolSize": 180, "labelFontSize": 8.5, "labelFont": "Liberation Sans", "rowPadding": 1, "labelOffset": 6}},
  "strokeWidth": {"field": "s", "type": "ordinal", "scale": {"type": "ordinal", "domain": ["Mean + CI", "Mean", "Mean – CI"], "range": [1, 2.4, 1]}, "legend": {"title": null, "orient": "none", "legendX": 81, "legendY": 66, "strokeColor": "#999", "fillColor": "#ffffff", "padding": 6, "symbolType": "stroke", "symbolSize": 180, "labelFontSize": 8.5, "labelFont": "Liberation Sans", "rowPadding": 1, "labelOffset": 6}}
 }
},
{
 "width": 165, "height": 124,
 "title": {"text": "Group Average", "subtitle": "(n = 33)"},
 "encoding": {
  "x": {"field": "x", "type": "quantitative", "scale": {"domain": [0, 700]}, "axis": {"labels": false, "title": null}},
  "y": {"field": "y", "type": "quantitative", "scale": {"domain": [-10, 40]}, "axis": {"values": [-10, 0, 10, 20, 30, 40], "labels": false, "title": null}}
 },
 "layer": [
  {"data": {"values": [{"x": 400, "x2": 626, "y": 40, "y2": -14.23}]}, "mark": {"type": "rect", "fill": "#000000", "fillOpacity": 0.075}, "encoding": {"x2": {"field": "x2"}, "y2": {"field": "y2"}}},
  {"data": {"values": [{"x": 17, "y": 35, "x2": 725, "y2": 35}, {"x": 725, "y": 35, "x2": 789, "y2": 40}, {"x": 17, "y": 25, "x2": 725, "y2": 25}, {"x": 725, "y": 25, "x2": 789, "y2": -10}]}, "mark": {"type": "rule", "stroke": "#999999", "strokeWidth": 0.8, "strokeDash": [3, 2]}, "encoding": {"x2": {"field": "x2"}, "y2": {"field": "y2"}}},
  {"data": {"name": "c2p"}, "mark": {"type": "line", "interpolate": "monotone"}, "encoding": {
   "color": {"field": "s", "type": "ordinal", "scale": {"domain": ["Mean + CI", "Mean", "Mean – CI"], "range": ["#45b0ae", "#000000", "#f5a742"]}, "legend": null},
   "strokeWidth": {"field": "s", "type": "ordinal", "scale": {"type": "ordinal", "domain": ["Mean + CI", "Mean", "Mean – CI"], "range": [1, 2.4, 1]}, "legend": null}}}
 ]
},
{"width": 1, "height": 124, "data": {"values": []}, "mark": "point"},
{
 "width": 165, "height": 124,
 "title": {"text": "During Image Acquisition", "fontStyle": "italic", "fontWeight": "normal"},
 "encoding": {
  "x": {"field": "x", "type": "quantitative", "scale": {"domain": [0, 14]}, "axis": {"labels": false, "title": null}},
  "y": {"field": "y", "type": "quantitative", "scale": {"domain": [25, 35]}, "axis": {"values": [25, 27, 29, 31, 33, 35], "title": null}}
 },
 "layer": [
  {"data": {"values": [{"x": 0, "x2": 13.2, "y": 35, "y2": 24.15}]}, "mark": {"type": "rect", "fill": "#000000", "fillOpacity": 0.075}, "encoding": {"x2": {"field": "x2"}, "y2": {"field": "y2"}}},
  {"data": {"name": "c3p"}, "mark": {"type": "line", "interpolate": "monotone"}, "encoding": {
   "color": {"field": "s", "type": "ordinal", "scale": {"domain": ["Mean + CI", "Mean", "Mean – CI"], "range": ["#45b0ae", "#000000", "#f5a742"]}, "legend": null},
   "strokeWidth": {"field": "s", "type": "ordinal", "scale": {"type": "ordinal", "domain": ["Mean + CI", "Mean", "Mean – CI"], "range": [1, 2.4, 1]}, "legend": null}}}
 ]
},
{
 "width": 165, "height": 124,
 "data": {"name": "c1v"},
 "mark": {"type": "line", "interpolate": "monotone"},
 "encoding": {
  "x": {"field": "x", "type": "quantitative", "scale": {"domain": [0, 700]}, "axis": {"labels": false, "title": null}},
  "y": {"field": "y", "type": "quantitative", "scale": {"domain": [-3, 5]}, "axis": {"values": [-3, -2, -1, 0, 1, 2, 3, 4, 5], "title": "Velocity [rad/s]"}},
  "color": {"field": "s", "type": "ordinal", "scale": {"domain": ["Mean + CI", "Mean", "Mean – CI"], "range": ["#45b0ae", "#000000", "#f5a742"]}, "legend": null},
  "strokeWidth": {"field": "s", "type": "ordinal", "scale": {"type": "ordinal", "domain": ["Mean + CI", "Mean", "Mean – CI"], "range": [1, 2.4, 1]}, "legend": null}
 }
},
{
 "width": 165, "height": 124,
 "encoding": {
  "x": {"field": "x", "type": "quantitative", "scale": {"domain": [0, 700]}, "axis": {"labels": false, "title": null}},
  "y": {"field": "y", "type": "quantitative", "scale": {"domain": [-3, 5]}, "axis": {"values": [-3, -2, -1, 0, 1, 2, 3, 4, 5], "labels": false, "title": null}}
 },
 "layer": [
  {"data": {"values": [{"x": 400, "x2": 626, "y": 5.68, "y2": -3.68}]}, "mark": {"type": "rect", "fill": "#000000", "fillOpacity": 0.075}, "encoding": {"x2": {"field": "x2"}, "y2": {"field": "y2"}}},
  {"data": {"name": "c2v"}, "mark": {"type": "line", "interpolate": "monotone"}, "encoding": {
   "color": {"field": "s", "type": "ordinal", "scale": {"domain": ["Mean + CI", "Mean", "Mean – CI"], "range": ["#45b0ae", "#000000", "#f5a742"]}, "legend": null},
   "strokeWidth": {"field": "s", "type": "ordinal", "scale": {"type": "ordinal", "domain": ["Mean + CI", "Mean", "Mean – CI"], "range": [1, 2.4, 1]}, "legend": null}}}
 ]
},
{"width": 1, "height": 124, "data": {"values": []}, "mark": "point"},
{
 "width": 165, "height": 124,
 "encoding": {
  "x": {"field": "x", "type": "quantitative", "scale": {"domain": [0, 14]}, "axis": {"labels": false, "title": null}},
  "y": {"field": "y", "type": "quantitative", "scale": {"domain": [-3, 5]}, "axis": {"values": [-3, -2, -1, 0, 1, 2, 3, 4, 5], "title": null}}
 },
 "layer": [
  {"data": {"values": [{"x": 0, "x2": 13.2, "y": 5.68, "y2": -3.68}]}, "mark": {"type": "rect", "fill": "#000000", "fillOpacity": 0.075}, "encoding": {"x2": {"field": "x2"}, "y2": {"field": "y2"}}},
  {"data": {"name": "c3v"}, "mark": {"type": "line", "interpolate": "monotone"}, "encoding": {
   "color": {"field": "s", "type": "ordinal", "scale": {"domain": ["Mean + CI", "Mean", "Mean – CI"], "range": ["#45b0ae", "#000000", "#f5a742"]}, "legend": null},
   "strokeWidth": {"field": "s", "type": "ordinal", "scale": {"type": "ordinal", "domain": ["Mean + CI", "Mean", "Mean – CI"], "range": [1, 2.4, 1]}, "legend": null}}}
 ]
},
{
 "width": 165, "height": 124,
 "data": {"name": "c1a"},
 "mark": {"type": "line", "interpolate": "monotone"},
 "encoding": {
  "x": {"field": "x", "type": "quantitative", "scale": {"domain": [0, 700]}, "axis": {"values": [0, 100, 200, 300, 400, 500, 600, 700], "title": "Time [ms]"}},
  "y": {"field": "y", "type": "quantitative", "scale": {"domain": [-4, 2]}, "axis": {"values": [-4, -3, -2, -1, 0, 1, 2], "title": "Acceleration [x100 rad/s²]"}},
  "color": {"field": "s", "type": "ordinal", "scale": {"domain": ["Mean + CI", "Mean", "Mean – CI"], "range": ["#45b0ae", "#000000", "#f5a742"]}, "legend": null},
  "strokeWidth": {"field": "s", "type": "ordinal", "scale": {"type": "ordinal", "domain": ["Mean + CI", "Mean", "Mean – CI"], "range": [1, 2.4, 1]}, "legend": null}
 }
},
{
 "width": 165, "height": 124,
 "encoding": {
  "x": {"field": "x", "type": "quantitative", "scale": {"domain": [0, 700]}, "axis": {"values": [0, 100, 200, 300, 400, 500, 600, 700], "title": "Time [ms]"}},
  "y": {"field": "y", "type": "quantitative", "scale": {"domain": [-4, 2]}, "axis": {"values": [-4, -3, -2, -1, 0, 1, 2], "labels": false, "title": null}}
 },
 "layer": [
  {"data": {"values": [{"x": 400, "x2": 626, "y": 2.51, "y2": -4}]}, "mark": {"type": "rect", "fill": "#000000", "fillOpacity": 0.075}, "encoding": {"x2": {"field": "x2"}, "y2": {"field": "y2"}}},
  {"data": {"name": "c2a"}, "mark": {"type": "line", "interpolate": "monotone"}, "encoding": {
   "color": {"field": "s", "type": "ordinal", "scale": {"domain": ["Mean + CI", "Mean", "Mean – CI"], "range": ["#45b0ae", "#000000", "#f5a742"]}, "legend": null},
   "strokeWidth": {"field": "s", "type": "ordinal", "scale": {"type": "ordinal", "domain": ["Mean + CI", "Mean", "Mean – CI"], "range": [1, 2.4, 1]}, "legend": null}}}
 ]
},
{"width": 1, "height": 124, "data": {"values": []}, "mark": "point"},
{
 "width": 165, "height": 124,
 "encoding": {
  "x": {"field": "x", "type": "quantitative", "scale": {"domain": [0, 14]}, "axis": {"values": [0, 2, 4, 6, 8, 10, 12, 14], "title": "Frame"}},
  "y": {"field": "y", "type": "quantitative", "scale": {"domain": [-4, 2]}, "axis": {"values": [-4, -3, -2, -1, 0, 1, 2], "title": null}}
 },
 "layer": [
  {"data": {"values": [{"x": 0, "x2": 13.2, "y": 2.51, "y2": -4}]}, "mark": {"type": "rect", "fill": "#000000", "fillOpacity": 0.075}, "encoding": {"x2": {"field": "x2"}, "y2": {"field": "y2"}}},
  {"data": {"name": "c3a"}, "mark": {"type": "line", "interpolate": "monotone"}, "encoding": {
   "color": {"field": "s", "type": "ordinal", "scale": {"domain": ["Mean + CI", "Mean", "Mean – CI"], "range": ["#45b0ae", "#000000", "#f5a742"]}, "legend": null},
   "strokeWidth": {"field": "s", "type": "ordinal", "scale": {"type": "ordinal", "domain": ["Mean + CI", "Mean", "Mean – CI"], "range": [1, 2.4, 1]}, "legend": null}}}
 ]
}
]
}
